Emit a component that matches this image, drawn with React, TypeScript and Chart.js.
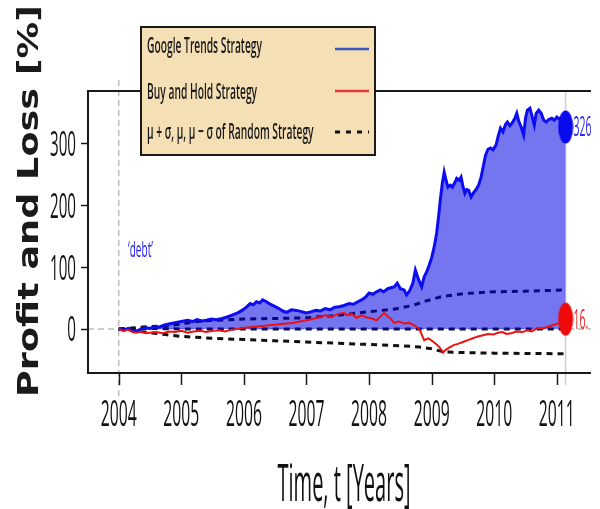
import React, { useEffect, useRef } from "react";
import { Chart, registerables } from "chart.js";

Chart.register(...registerables);

// ---------- data ----------
const googleYears = [
  2004.0, 2004.08, 2004.15, 2004.22, 2004.28, 2004.36, 2004.44, 2004.5, 2004.58, 2004.64, 2004.72, 2004.8, 2004.9,
  2005.0, 2005.1, 2005.18, 2005.25, 2005.33, 2005.4, 2005.48, 2005.56, 2005.65, 2005.72, 2005.8, 2005.9, 2005.97,
  2006.05, 2006.1, 2006.15, 2006.2, 2006.25, 2006.3, 2006.36, 2006.42, 2006.5, 2006.56, 2006.62, 2006.68, 2006.76,
  2006.84, 2006.92, 2007.0, 2007.08, 2007.15, 2007.22, 2007.3, 2007.38, 2007.45, 2007.52, 2007.6, 2007.68, 2007.75,
  2007.82, 2007.88, 2007.95, 2008.0, 2008.06, 2008.12, 2008.18, 2008.23, 2008.3, 2008.36, 2008.4, 2008.45, 2008.5,
  2008.56, 2008.6, 2008.65, 2008.7, 2008.74, 2008.79, 2008.84, 2008.88, 2008.92, 2008.96, 2009.0, 2009.04, 2009.08,
  2009.11, 2009.14, 2009.17, 2009.2, 2009.23, 2009.26, 2009.3, 2009.33, 2009.37, 2009.4, 2009.44, 2009.47, 2009.5,
  2009.53, 2009.56, 2009.59, 2009.63, 2009.67, 2009.71, 2009.75, 2009.79, 2009.83, 2009.86, 2009.9, 2009.94, 2009.98,
  2010.03, 2010.06, 2010.1, 2010.14, 2010.18, 2010.21, 2010.25, 2010.29, 2010.33, 2010.36, 2010.39, 2010.43, 2010.47,
  2010.5, 2010.53, 2010.57, 2010.6, 2010.64, 2010.67, 2010.71, 2010.75, 2010.79, 2010.83, 2010.87, 2010.92, 2010.96,
  2011.0, 2011.04, 2011.08, 2011.12, 2011.14,
];
const googleValues = [
  0, -2, 1, -3, -4, 0, 2, 1, 4, 3, 6, 8, 10,
  12, 14, 12, 15, 13, 14, 16, 15, 17, 19, 22, 26, 30,
  36, 41, 39, 44, 42, 47, 44, 40, 36, 33, 29, 27, 31,
  30, 28, 26, 28, 30, 29, 33, 31, 35, 36, 38, 41, 40,
  44, 47, 52, 58, 56, 60, 63, 60, 65, 67, 68, 74, 65,
  63, 55, 62, 74, 95, 80, 68, 84, 92, 103, 115, 132, 155,
  181, 210, 235, 253, 240, 229, 232, 229, 236, 243, 240, 245, 230,
  219, 225, 224, 213, 220, 225, 232, 245, 265, 280, 290, 292, 289,
  297, 310, 324, 318, 330, 334, 328, 333, 340, 348, 336, 326, 313,
  340, 353, 356, 345, 329, 348, 353, 348, 337, 334, 338, 340, 337,
  342, 339, 341, 330, 326,
];

const buyHoldYears = [
  2004.0, 2004.08, 2004.15, 2004.22, 2004.28, 2004.36, 2004.44, 2004.5, 2004.6, 2004.7, 2004.8, 2004.9,
  2005.0, 2005.1, 2005.2, 2005.3, 2005.4, 2005.5, 2005.6, 2005.7, 2005.8, 2005.9,
  2006.0, 2006.1, 2006.2, 2006.3, 2006.4, 2006.5, 2006.6, 2006.7, 2006.8, 2006.9,
  2007.0, 2007.1, 2007.2, 2007.3, 2007.4, 2007.5, 2007.6, 2007.65, 2007.72, 2007.8, 2007.88, 2007.95,
  2008.05, 2008.12, 2008.18, 2008.24, 2008.3, 2008.35, 2008.4, 2008.48, 2008.56, 2008.64, 2008.72, 2008.78,
  2008.82, 2008.88, 2008.95, 2009.03, 2009.08, 2009.13, 2009.18, 2009.22, 2009.28, 2009.35, 2009.42, 2009.5,
  2009.58, 2009.66, 2009.74, 2009.82, 2009.9, 2009.98, 2010.06, 2010.13, 2010.2, 2010.27, 2010.35, 2010.45,
  2010.52, 2010.6, 2010.7, 2010.78, 2010.86, 2010.93, 2011.0, 2011.07, 2011.14,
];
const buyHoldValues = [
  0, -3, -1, -5, -6, -4, -7, -6, -5, -7, -4, -5,
  -3, -6, -4, -3, -5, -3, -2, -4, -1, 0,
  2, 3, 4, 5, 6, 7, 8, 9, 10, 12,
  14, 16, 19, 22, 20, 24, 26, 22, 25, 18, 22, 19,
  17, 14, 20, 26, 20, 16, 10, 12, 9, 10, 6, 2,
  -4, -18, -15, -21, -25, -30, -38, -34, -30, -26, -24, -21,
  -18, -15, -12, -10, -8, -9, -6, -5, -8, -7, -4, -5,
  -2, -4, 2, 1, 4, 6, 8, 11, 16,
];

const muPlusYears = [2004.0, 2004.25, 2004.5, 2004.75, 2005.0, 2005.25, 2005.5, 2005.75, 2006.0, 2006.5, 2007.0, 2007.5, 2008.0, 2008.4, 2008.7, 2008.9, 2009.15, 2009.5, 2010.0, 2010.5, 2011.14];
const muPlusValues = [0, 2, 4, 5, 8, 12, 14, 15, 16, 17, 18, 22, 28, 32, 38, 45, 52, 57, 60, 61, 63];
const muYears = [2004.0, 2004.5, 2005.0, 2006.0, 2007.0, 2008.0, 2009.0, 2010.0, 2011.14];
const muValues = [0, 1, 0, 0, 0, 0, 0, 0, 0];
const muMinusYears = [2004.0, 2004.25, 2004.5, 2004.75, 2005.0, 2005.5, 2006.0, 2006.5, 2007.0, 2007.5, 2008.0, 2008.5, 2008.8, 2009.0, 2009.2, 2009.5, 2010.0, 2011.14];
const muMinusValues = [0, -3, -6, -9, -12, -15, -17, -19, -21, -23, -25, -27, -29, -32, -37, -38, -39, -40];

const endYear = 2011.14;
const googleFinal = 326;
const buyHoldFinal = 16;
const googleFinalLabel = "326";
const buyHoldFinalLabel = "16.";

const xTickYears = [2004, 2005, 2006, 2007, 2008, 2009, 2010, 2011];
const yTickValues = [0, 100, 200, 300];

const legendLabels = [
  "Google Trends Strategy",
  "Buy and Hold Strategy",
  "\u03bc + \u03c3, \u03bc, \u03bc \u2212 \u03c3 of Random Strategy",
];
const xTitle = "Time, t [Years]";
const yTitle = "Profit and Loss [%]";
const noteText = "\u2018debt\u2019";

// ---------- helpers ----------
const CAP = 0.714;
const SANS = "'Open Sans', 'Liberation Sans', sans-serif";

function toXY(xs: number[], ys: number[]) {
  return xs.map((x, i) => ({ x, y: ys[i] }));
}

function fitScale(ctx: CanvasRenderingContext2D, font: string, size: number, ref: string, w: number, cap: number) {
  ctx.save();
  ctx.font = font;
  const mw = ctx.measureText(ref).width;
  ctx.restore();
  return { sx: w / mw, sy: cap / (CAP * size) };
}

function drawText(
  ctx: CanvasRenderingContext2D,
  text: string,
  x: number,
  y: number,
  font: string,
  size: number,
  sx: number,
  sy: number,
  align: CanvasTextAlign,
  color: string,
  rotate = false
) {
  ctx.save();
  ctx.translate(x, y);
  if (rotate) ctx.rotate(-Math.PI / 2);
  ctx.scale(sx, sy);
  ctx.font = font;
  ctx.textAlign = align;
  ctx.textBaseline = "alphabetic";
  ctx.fillStyle = color;
  ctx.fillText(text, 0, (CAP * size) / 2);
  ctx.restore();
}

function seg(ctx: CanvasRenderingContext2D, x1: number, y1: number, x2: number, y2: number) {
  ctx.beginPath();
  ctx.moveTo(x1, y1);
  ctx.lineTo(x2, y2);
  ctx.stroke();
}

function ellipseCanvas(color: string, w: number, h: number) {
  const c = document.createElement("canvas");
  c.width = w;
  c.height = h;
  const g = c.getContext("2d")!;
  g.fillStyle = color;
  g.beginPath();
  g.ellipse(w / 2, h / 2, w / 2 - 0.5, h / 2 - 0.5, 0, 0, Math.PI * 2);
  g.fill();
  return c;
}

const decoPlugin = {
  id: "deco",
  beforeDatasetsDraw(chart: any) {
    const { ctx, chartArea: a, scales } = chart;
    const x = scales.x;
    const y = scales.y;
    ctx.save();
    ctx.strokeStyle = "#bdbdbd";
    ctx.lineWidth = 1.5;
    ctx.setLineDash([6, 4]);
    const y0 = y.getPixelForValue(0);
    seg(ctx, a.left, y0, a.right, y0);
    const xs = x.getPixelForValue(2004);
    seg(ctx, xs, a.top - 11, xs, a.bottom + 25);
    ctx.setLineDash([]);
    ctx.strokeStyle = "#cfcfcf";
    const xe = x.getPixelForValue(endYear);
    seg(ctx, xe, a.top, xe, a.bottom + 12);
    ctx.restore();
  },
  afterDatasetsDraw(chart: any) {
    const { ctx, chartArea: a, scales } = chart;
    const x = scales.x;
    const y = scales.y;
    ctx.save();
    // frame
    ctx.strokeStyle = "#1a1a1a";
    ctx.lineWidth = 2;
    ctx.setLineDash([]);
    seg(ctx, a.left, a.top, a.right, a.top);
    seg(ctx, a.left, a.bottom, a.right, a.bottom);
    seg(ctx, a.left, a.top - 1, a.left, a.bottom + 1);
    // ticks
    ctx.lineWidth = 1.5;
    xTickYears.forEach((t) => {
      const px = Math.round(x.getPixelForValue(t)) + 0.5;
      seg(ctx, px, a.bottom, px, a.bottom + 12);
    });
    yTickValues.forEach((v) => {
      const py = Math.round(y.getPixelForValue(v)) + 0.5;
      seg(ctx, a.left - 7, py, a.left, py);
    });

    // tick labels
    const tf = `500 16px ${SANS}`;
    const xs = fitScale(ctx, tf, 16, "2004", 36, 26);
    xTickYears.forEach((t) => {
      drawText(ctx, String(t), x.getPixelForValue(t), a.bottom + 40, tf, 16, xs.sx, xs.sy, "center", "#111");
    });
    const ys = fitScale(ctx, tf, 16, "300", 26, 25);
    yTickValues.forEach((v) => {
      drawText(ctx, String(v), a.left - 12, y.getPixelForValue(v), tf, 16, ys.sx, ys.sy, "right", "#111");
    });

    // axis titles
    const xf = `500 20px ${SANS}`;
    const xt = fitScale(ctx, xf, 20, xTitle, 133, 37);
    drawText(ctx, xTitle, 344, 482, xf, 20, xt.sx, xt.sy, "center", "#111");
    const yf = `bold 25px 'DejaVu Sans', sans-serif`;
    const yt = fitScale(ctx, yf, 25, yTitle, 392, 20);
    drawText(ctx, yTitle, 28, 201, yf, 25, yt.sx, yt.sy, "center", "#1a1a1a", true);

    // note
    const nf = `14px ${SANS}`;
    const nt = fitScale(ctx, nf, 14, noteText, 25, 15);
    drawText(ctx, noteText, 128, 249, nf, 14, nt.sx, nt.sy, "left", "#2020ee");

    // end labels
    const ef = `16px ${SANS}`;
    const et = fitScale(ctx, ef, 16, googleFinalLabel, 18, 19);
    const ex = x.getPixelForValue(endYear) + 8;
    drawText(ctx, googleFinalLabel, ex, y.getPixelForValue(googleFinal), ef, 16, et.sx, et.sy, "left", "#2a2aee");
    drawText(ctx, buyHoldFinalLabel, ex, y.getPixelForValue(buyHoldFinal), ef, 16, et.sx, et.sy, "left", "#ee2a2a");

    // legend
    const L = 141, T = 27, R = 375, B = 155;
    ctx.fillStyle = "#f5dfb5";
    ctx.fillRect(L, T, R - L, B - T);
    ctx.strokeStyle = "#1a1a1a";
    ctx.lineWidth = 2;
    ctx.strokeRect(L, T, R - L, B - T);
    const lf = `600 14px ${SANS}`;
    const lt = fitScale(ctx, lf, 14, legendLabels[0], 115, 16);
    const rowsY = [45, 91, 131];
    const lineY = [49, 91, 132];
    const colors = ["#3a55c0", "#e83535", "#111"];
    legendLabels.forEach((s, i) => {
      drawText(ctx, s, 147, rowsY[i], lf, 14, lt.sx, lt.sy, "left", "#1a1a1a");
      ctx.strokeStyle = colors[i];
      ctx.lineWidth = i === 2 ? 3 : 2.5;
      ctx.setLineDash(i === 2 ? [5, 6] : []);
      seg(ctx, 335, lineY[i], 369, lineY[i]);
    });
    ctx.restore();
  },
};

export default function App() {
  const ref = useRef<HTMLCanvasElement | null>(null);
  useEffect(() => {
    if (!ref.current) return;
    const dashed = (xs: number[], ys: number[]) => ({
      data: toXY(xs, ys),
      borderColor: "#111",
      borderWidth: 3,
      borderDash: [6, 5],
      pointRadius: 0,
      fill: false,
      order: 4,
      tension: 0,
    });
    const chart = new Chart(ref.current, {
      type: "line",
      data: {
        datasets: [
          {
            data: [{ x: endYear, y: googleFinal }],
            showLine: false,
            pointStyle: ellipseCanvas("#0a0aee", 16, 34) as any,
            pointRadius: 8,
            order: 0,
          } as any,
          {
            data: [{ x: endYear, y: buyHoldFinal }],
            showLine: false,
            pointStyle: ellipseCanvas("#ee0a0a", 16, 34) as any,
            pointRadius: 8,
            order: 0,
          } as any,
          {
            data: toXY(buyHoldYears, buyHoldValues),
            borderColor: "#ee1010",
            borderWidth: 2,
            pointRadius: 0,
            fill: false,
            order: 1,
          },
          {
            data: toXY(googleYears, googleValues),
            borderColor: "#0c0cf0",
            borderWidth: 3,
            backgroundColor: "rgba(0,0,225,0.54)",
            pointRadius: 0,
            fill: "origin",
            order: 2,
          },
          dashed(muPlusYears, muPlusValues),
          dashed(muYears, muValues),
          dashed(muMinusYears, muMinusValues),
        ] as any,
      },
      options: {
        animation: false,
        responsive: false,
        devicePixelRatio: 1,
        layout: { padding: { left: 88, top: 91, right: 0, bottom: 136 } },
        plugins: { legend: { display: false }, tooltip: { enabled: false } },
        scales: {
          x: { type: "linear", min: 2003.509, max: 2011.546, display: false },
          y: { type: "linear", min: -71, max: 384, display: false },
        },
      },
      plugins: [decoPlugin],
    });
    return () => chart.destroy();
  }, []);
  return (
    <div style={{ position: "fixed", left: 0, top: 0, width: 600, height: 509, background: "#fff" }}>
      <canvas ref={ref} width={600} height={509} style={{ display: "block" }} />
    </div>
  );
}
